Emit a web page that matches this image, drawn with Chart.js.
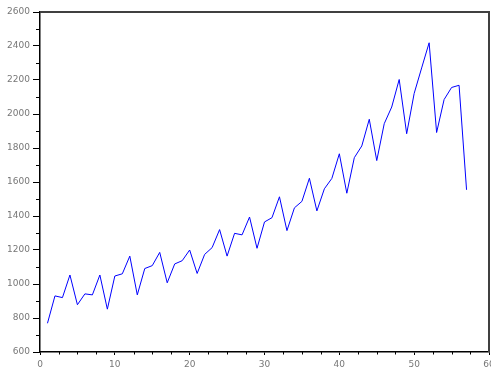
<!DOCTYPE html>
<html>
<head>
<meta charset="utf-8">
<script src="https://cdn.jsdelivr.net/npm/chart.js@4/dist/chart.umd.min.js"></script>
<style>
  html, body { margin: 0; padding: 0; background: #fff; }
  #wrap { width: 491px; height: 367px; }
</style>
</head>
<body>
<div id="wrap"><canvas id="c" width="491" height="367"></canvas></div>
<script>
// Period index along the horizontal axis
const periods = [1, 2, 3, 4, 5, 6, 7, 8, 9, 10, 11, 12, 13, 14, 15, 16, 17, 18, 19, 20,
  21, 22, 23, 24, 25, 26, 27, 28, 29, 30, 31, 32, 33, 34, 35, 36, 37, 38, 39, 40,
  41, 42, 43, 44, 45, 46, 47, 48, 49, 50, 51, 52, 53, 54, 55, 56, 57];

// Observed values for each period
const values = [769, 930, 920, 1053, 878, 942, 936, 1053, 852, 1047,
  1060, 1164, 936, 1091, 1108, 1186, 1007, 1118, 1137, 1200,
  1062, 1174, 1214, 1320, 1164, 1298, 1289, 1394, 1210, 1365,
  1390, 1513, 1314, 1448, 1486, 1622, 1430, 1560, 1621, 1766,
  1534, 1743, 1812, 1969, 1726, 1943, 2041, 2203, 1884, 2121,
  2271, 2419, 1891, 2085, 2156, 2169, 1554];

// Axis ranges and tick spacing (major ticks are labelled, minor ones are not)
const xRange = [0, 60];
const xMinorStep = 2.5;
const xMajorStep = 10;
const yRange = [600, 2600];
const yMinorStep = 100;
const yMajorStep = 200;

const points = periods.map((p, i) => ({ x: p, y: values[i] }));

const isMajor = (v, step) => Math.abs(v / step - Math.round(v / step)) < 1e-6;

// Short unlabelled ticks between the labelled ones
const minorTicks = {
  id: 'minorTicks',
  afterDraw(chart) {
    const ctx = chart.ctx;
    const area = chart.chartArea;
    ctx.save();
    ctx.strokeStyle = '#000';
    ctx.lineWidth = 1;
    const xs = chart.scales.x;
    xs.ticks.forEach(t => {
      if (isMajor(t.value, xMajorStep)) return;
      const px = Math.round(xs.getPixelForValue(t.value)) + 0.5;
      ctx.beginPath();
      ctx.moveTo(px, area.bottom);
      ctx.lineTo(px, area.bottom + 2.5);
      ctx.stroke();
    });
    const ys = chart.scales.y;
    ys.ticks.forEach(t => {
      if (isMajor(t.value, yMajorStep)) return;
      const py = Math.round(ys.getPixelForValue(t.value)) + 0.5;
      ctx.beginPath();
      ctx.moveTo(area.left, py);
      ctx.lineTo(area.left - 4, py);
      ctx.stroke();
    });
    ctx.restore();
  }
};

// Grey frame along the top and right of the plot area
const frame = {
  id: 'frame',
  afterDraw(chart) {
    const ctx = chart.ctx;
    const a = chart.chartArea;
    ctx.save();
    ctx.strokeStyle = '#404040';
    ctx.lineWidth = 2;
    ctx.beginPath();
    ctx.moveTo(a.left, a.top);
    ctx.lineTo(a.right, a.top);
    ctx.lineTo(a.right, a.bottom);
    ctx.stroke();
    ctx.restore();
  }
};

Chart.defaults.font.family = '"DejaVu Sans", sans-serif';
Chart.defaults.font.size = 9;
Chart.defaults.color = '#777';

new Chart(document.getElementById('c'), {
  type: 'line',
  data: {
    datasets: [{
      data: points,
      borderColor: '#0000ff',
      borderWidth: 1,
      pointRadius: 0,
      tension: 0,
      fill: false
    }]
  },
  options: {
    responsive: false,
    animation: false,
    events: [],
    layout: { padding: { top: 12, right: 2, left: 0, bottom: 0 } },
    plugins: { legend: { display: false }, tooltip: { enabled: false } },
    scales: {
      x: {
        type: 'linear',
        min: xRange[0],
        max: xRange[1],
        afterFit: s => { s.height = 15; s.paddingRight = 0; s.paddingLeft = 0; },
        border: { color: '#000', width: 1.5 },
        grid: {
          drawOnChartArea: false,
          tickLength: 3,
          tickColor: c => (c.tick && isMajor(c.tick.value, xMajorStep)) ? '#000' : 'rgba(0,0,0,0)'
        },
        ticks: {
          stepSize: xMinorStep,
          autoSkip: false,
          maxRotation: 0,
          padding: 4,
          color: '#777',
          callback: v => isMajor(v, xMajorStep) ? String(v) : ''
        }
      },
      y: {
        type: 'linear',
        min: yRange[0],
        max: yRange[1],
        afterFit: s => { s.width = 40; },
        border: { color: '#000', width: 1.5 },
        grid: {
          drawOnChartArea: false,
          tickLength: 7,
          tickColor: c => (c.tick && isMajor(c.tick.value, yMajorStep)) ? '#000' : 'rgba(0,0,0,0)'
        },
        ticks: {
          stepSize: yMinorStep,
          autoSkip: false,
          padding: 3,
          color: '#777',
          callback: v => isMajor(v, yMajorStep) ? String(v) : ''
        }
      }
    }
  },
  plugins: [minorTicks, frame]
});
</script>
</body>
</html>
